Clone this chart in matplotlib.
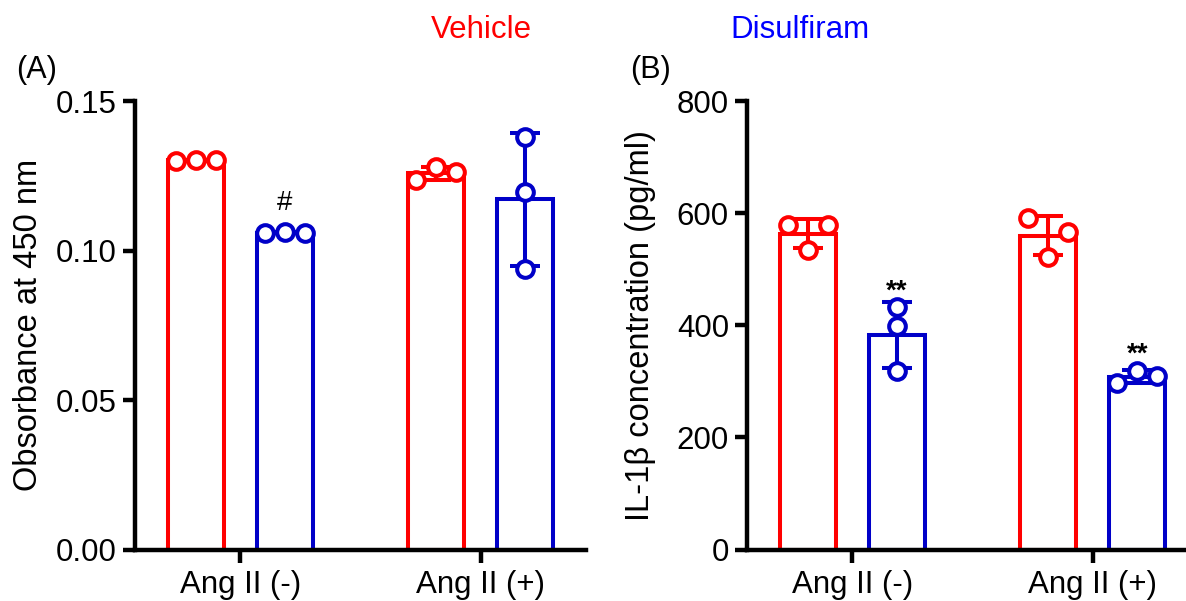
import numpy as np
import matplotlib
matplotlib.use("Agg")
import matplotlib.pyplot as plt

plt.rcParams['font.family'] = ['Liberation Sans', 'DejaVu Sans']

# groups and per-bar replicate values (left-to-right order as plotted)
groups = ["Ang II (-)", "Ang II (+)"]

# (A) absorbance at 450 nm
veh_a = [[0.1301, 0.1303, 0.1302], [0.1236, 0.1279, 0.1264]]
dsf_a = [[0.1060, 0.1061, 0.1060], [0.1381, 0.1195, 0.0939]]
sig_a = ["#", ""]          # marks over Disulfiram bars

# (B) IL-1beta concentration (pg/ml)
veh_b = [[579, 534, 579], [592, 522, 567]]
dsf_b = [[433, 399, 318], [297, 319, 310]]
sig_b = ["**", "**"]

RED = "#FF0000"
BLUE = "#0000C8"
LW = 2.9

W, H = 1186, 601
fig = plt.figure(figsize=(W / 100, H / 100), dpi=100)


def px_axes(left, right, top, bottom):
    return fig.add_axes([left / W, 1 - bottom / H, (right - left) / W, (bottom - top) / H])


def draw_bar(ax, x, vals, color, ymax):
    vals = np.array(vals, dtype=float)
    m = vals.mean()
    sd = vals.std(ddof=1)
    ax.bar(x, m, width=0.233, facecolor="white", edgecolor=color, linewidth=LW, zorder=2)
    ax.errorbar(x, m, yerr=sd, fmt="none", ecolor=color, elinewidth=LW,
                capsize=10.5, capthick=LW, zorder=3, clip_on=False)
    # spread points sideways only if they would overlap
    close = np.min(np.abs(np.subtract.outer(vals, vals)) + np.eye(len(vals)) * 1e9) < 0.038 * ymax
    offs = (np.arange(len(vals)) - (len(vals) - 1) / 2) * 0.083 if close else np.zeros(len(vals))
    ax.plot(x + offs, vals, "o", ms=12.0, mfc="white", mec=color, mew=LW,
            zorder=4, clip_on=False)


def panel(ax, veh, dsf, sig, ymax, ystep, fmt, ylabel, letter_x, tag):
    x = np.arange(len(groups))
    for i in x:
        draw_bar(ax, i - 0.185, veh[i], RED, ymax)
        draw_bar(ax, i + 0.185, dsf[i], BLUE, ymax)
        if sig[i]:
            star = "*" in sig[i]
            ax.annotate(sig[i], (i + 0.185, max(dsf[i])), xytext=(0, 2 if star else 12),
                        textcoords="offset points", ha="center", va="bottom", fontsize=20,
                        fontweight="bold" if star else "normal", color="black")
    ax.set_xlim(-0.4375, 1.4375)
    ax.set_ylim(0, ymax)
    ticks = np.arange(0, ymax + ystep / 2, ystep)
    ax.set_yticks(ticks)
    ax.set_yticklabels([fmt % v for v in ticks])
    ax.set_xticks(x)
    ax.set_xticklabels(groups)
    for s in ["top", "right"]:
        ax.spines[s].set_visible(False)
    for s in ["left", "bottom"]:
        ax.spines[s].set_linewidth(3.2)
        ax.spines[s].set_zorder(5)
    ax.tick_params(axis="both", length=9, width=3.2, labelsize=22.5, pad=4)
    ax.tick_params(axis="x", pad=6)
    ax.text(-0.237, 0.5, ylabel, rotation=90, transform=ax.transAxes,
            ha="center", va="center", fontsize=23.5)
    fig.text(letter_x / W, 1 - 70 / H, tag, ha="center", va="center", fontsize=22)


axA = px_axes(135, 586, 101.3, 549.5)
panel(axA, veh_a, dsf_a, sig_a, 0.15, 0.05, "%.2f", "Obsorbance at 450 nm", 37, "(A)")

axB = px_axes(747, 1198, 101.3, 549.5)
panel(axB, veh_b, dsf_b, sig_b, 800, 200, "%d", "IL-1\u03b2 concentration (pg/ml)", 650, "(B)")

fig.text(481 / W, 1 - 30 / H, "Vehicle", color="#FF0000", ha="center", va="center", fontsize=22.5)
fig.text(800 / W, 1 - 30 / H, "Disulfiram", color="#0000FF", ha="center", va="center", fontsize=22.5)

fig.savefig("out.png", dpi=100)
